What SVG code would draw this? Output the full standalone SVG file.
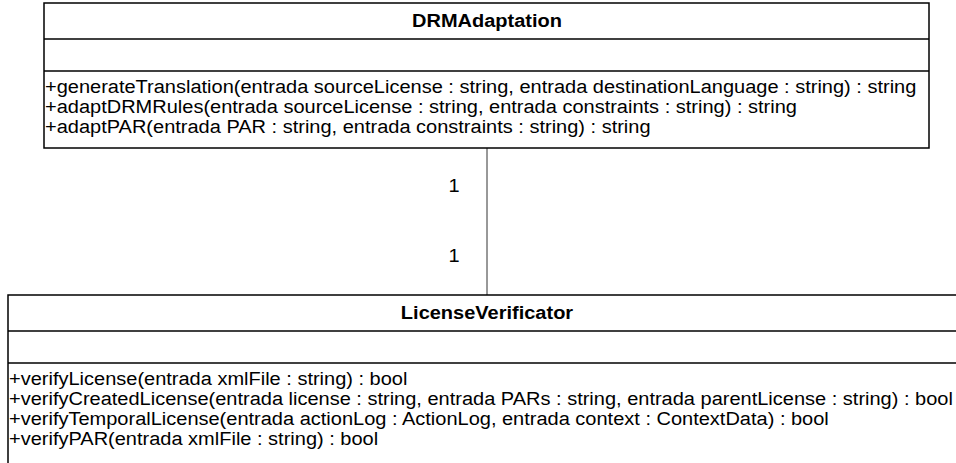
<svg xmlns="http://www.w3.org/2000/svg" width="956" height="463" viewBox="0 0 956 463">
<style>
.box{fill:#fff;stroke:#000;stroke-width:1.5}
.sep{stroke:#000;stroke-width:1.5}
.t{font-family:"Liberation Sans",Arial,sans-serif;font-size:19px;fill:#000}
.title{font-weight:bold;text-anchor:middle}
.conn{stroke:#333;stroke-width:1;fill:none}
</style>
<rect width="956" height="463" fill="#fff"/>
<g id="connectors">
<line class="conn" x1="487" y1="148" x2="487" y2="295"/>
<g transform="translate(454,0) scale(1.053,1)">
<text class="t" x="0" y="192.5" text-anchor="middle">1</text>
<text class="t" x="0" y="262.5" text-anchor="middle">1</text>
</g>
</g>
<g id="DRMAdaptation">
<rect class="box" x="44" y="3" width="885" height="145"/>
<line class="sep" x1="44" y1="39" x2="929" y2="39"/>
<line class="sep" x1="44" y1="71" x2="929" y2="71"/>
<g transform="translate(487,0) scale(1.053,1)">
<text class="t title" x="0" y="27">DRMAdaptation</text>
</g>
<g transform="translate(45,0) scale(1.053,1)">
<text class="t" x="0" y="93">+generateTranslation(entrada sourceLicense : string, entrada destinationLanguage : string) : string</text>
<text class="t" x="0" y="113">+adaptDRMRules(entrada sourceLicense : string, entrada constraints : string) : string</text>
<text class="t" x="0" y="133">+adaptPAR(entrada PAR : string, entrada constraints : string) : string</text>
</g>
</g>
<g id="LicenseVerificator">
<rect class="box" x="8" y="295" width="960" height="180"/>
<line class="sep" x1="8" y1="331" x2="956" y2="331"/>
<line class="sep" x1="8" y1="363" x2="956" y2="363"/>
<g transform="translate(487,0) scale(1.053,1)">
<text class="t title" x="0" y="319">LicenseVerificator</text>
</g>
<g transform="translate(9,0) scale(1.053,1)">
<text class="t" x="0" y="385">+verifyLicense(entrada xmlFile : string) : bool</text>
<text class="t" x="0" y="405">+verifyCreatedLicense(entrada license : string, entrada PARs : string, entrada parentLicense : string) : bool</text>
<text class="t" x="0" y="425">+verifyTemporalLicense(entrada actionLog : ActionLog, entrada context : ContextData) : bool</text>
<text class="t" x="0" y="445">+verifyPAR(entrada xmlFile : string) : bool</text>
</g>
</g>
</svg>
